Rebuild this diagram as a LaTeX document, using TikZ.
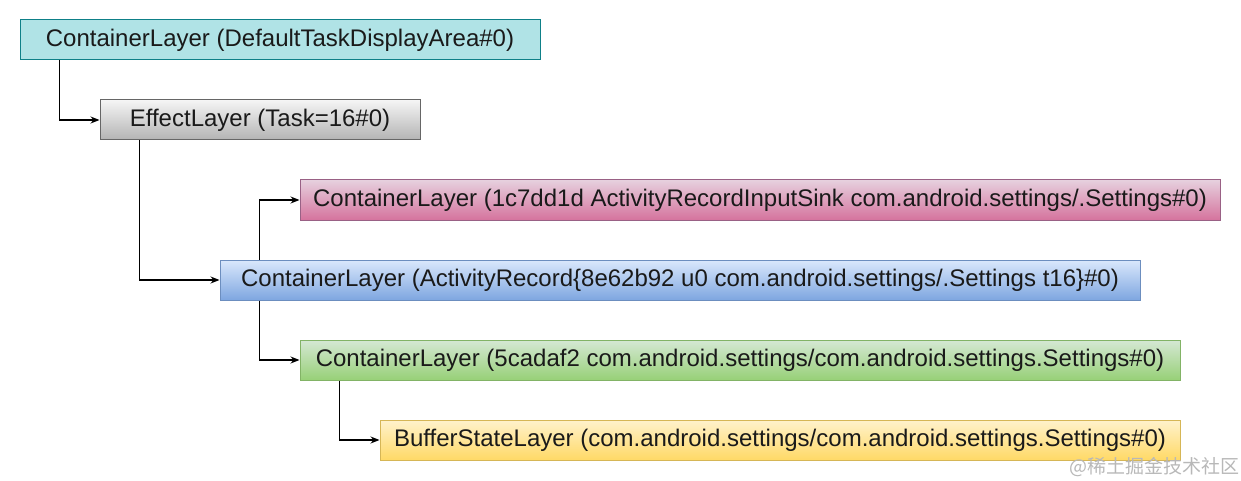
\documentclass[tikz,border=0pt]{standalone}
\usepackage{fontspec}
\setmainfont{Liberation Sans}
\newfontfamily\cjkfont{Noto Sans CJK SC}
\usetikzlibrary{arrows.meta}
\definecolor{txt}{HTML}{1A1A1A}
\definecolor{tealfill}{HTML}{B0E3E6}
\definecolor{tealdraw}{HTML}{0E8088}
\definecolor{greytop}{HTML}{F5F5F5}
\definecolor{greybot}{HTML}{B3B3B3}
\definecolor{greydraw}{HTML}{666666}
\definecolor{pinktop}{HTML}{E6D0DE}
\definecolor{pinkbot}{HTML}{D5739D}
\definecolor{pinkdraw}{HTML}{996185}
\definecolor{bluetop}{HTML}{DAE8FC}
\definecolor{bluebot}{HTML}{7EA6E0}
\definecolor{bluedraw}{HTML}{6C8EBF}
\definecolor{greentop}{HTML}{D5E8D4}
\definecolor{greenbot}{HTML}{97D077}
\definecolor{greendraw}{HTML}{82B366}
\definecolor{yellowtop}{HTML}{FFF2CC}
\definecolor{yellowbot}{HTML}{FFD966}
\definecolor{yellowdraw}{HTML}{D6B656}
\definecolor{wm}{HTML}{B8B8B8}
\tikzset{
  layerbox/.style={draw, line width=1pt, minimum height=40pt, inner sep=0pt,
    text=txt, font=\fontsize{24pt}{28pt}\selectfont},
  conn/.style={draw, line width=1.2pt, -{Stealth[length=9pt,width=7pt]}}
}
\begin{document}
\begin{tikzpicture}[x=1pt,y=-1pt]
\useasboundingbox (0,0) rectangle (1241,481);
\node[layerbox, fill=tealfill, draw=tealdraw, minimum width=520pt] (b1) at (280,40) {ContainerLayer (DefaultTaskDisplayArea\#0)};
\node[layerbox, top color=greytop, bottom color=greybot, draw=greydraw, minimum width=320pt] (b2) at (260,120) {EffectLayer (Task=16\#0)};
\node[layerbox, top color=pinktop, bottom color=pinkbot, draw=pinkdraw, minimum width=920pt] (b3) at (760,200) {ContainerLayer (1c7dd1d ActivityRecordInputSink com.android.settings/.Settings\#0)};
\node[layerbox, top color=bluetop, bottom color=bluebot, draw=bluedraw, minimum width=920pt] (b4) at (680,280) {ContainerLayer (ActivityRecord\{8e62b92 u0 com.android.settings/.Settings t16\}\#0)};
\node[layerbox, top color=greentop, bottom color=greenbot, draw=greendraw, minimum width=880pt] (b5) at (740,360) {ContainerLayer (5cadaf2 com.android.settings/com.android.settings.Settings\#0)};
\node[layerbox, top color=yellowtop, bottom color=yellowbot, draw=yellowdraw, minimum width=800pt] (b6) at (780,440) {BufferStateLayer (com.android.settings/com.android.settings.Settings\#0)};
\draw[conn] ([xshift=40pt]b1.south west) |- (b2.west);
\draw[conn] ([xshift=40pt]b2.south west) |- (b4.west);
\draw[conn] ([xshift=40pt]b4.north west) |- (b3.west);
\draw[conn] ([xshift=40pt]b4.south west) |- (b5.west);
\draw[conn] ([xshift=40pt]b5.south west) |- (b6.west);
\node[text=wm, font=\cjkfont\fontsize{19pt}{22pt}\selectfont, inner sep=0pt] (wmark) at (1154,467) {@稀土掘金技术社区};
\end{tikzpicture}
\end{document}
